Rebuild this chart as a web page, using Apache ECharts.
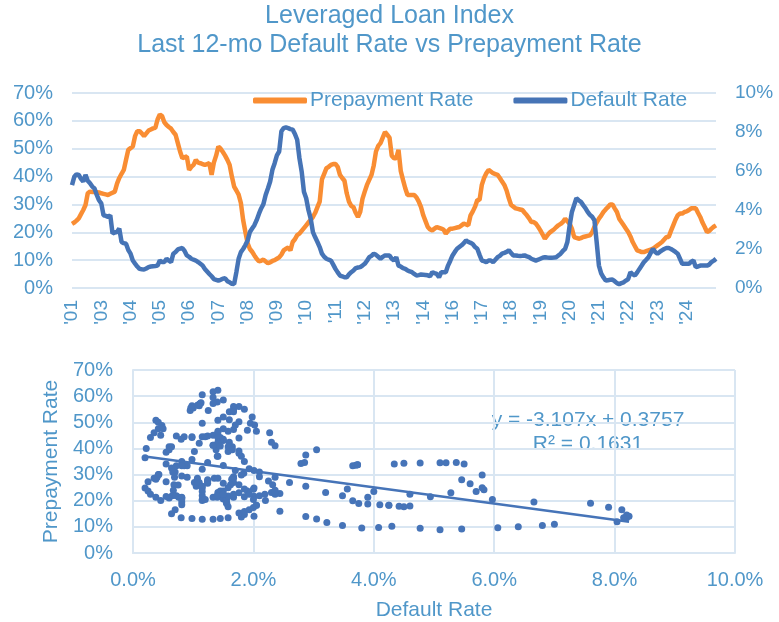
<!DOCTYPE html>
<html>
<head>
<meta charset="utf-8">
<title>Leveraged Loan Index</title>
<script src="https://cdn.jsdelivr.net/npm/echarts@6/dist/echarts.min.js"></script>
<style>
  html, body { margin: 0; padding: 0; background: #fff; }
  #chart { width: 779px; height: 622px; }
</style>
</head>
<body>
<div id="chart"></div>
<script>
// monthly series, Dec 2001 .. Oct 2025 (values in %)
var prepayRate = [
  23.0,
  23.5, 24.2, 25.0, 26.5, 28.0, 29.8, 34.0, 34.6, 34.5, 34.5, 34.4, 34.3,
  34.0, 33.8, 33.6, 33.4, 33.8, 34.2, 34.6, 37.5, 39.5, 41.0, 42.4, 46.0,
  49.6, 50.2, 50.8, 54.5, 56.3, 56.3, 55.5, 54.5, 55.5, 56.5, 56.9, 57.3,
  57.5, 60.5, 62.3, 61.7, 59.5, 58.5, 57.8, 57.2, 56.0, 55.0, 52.0, 49.0,
  46.6, 47.0, 47.2, 42.4, 43.5, 44.2, 46.0, 45.0, 44.8, 44.5, 44.2, 44.5,
  44.8, 40.6, 45.0, 47.5, 50.8, 50.0, 48.8, 47.5, 46.0, 44.2, 40.0, 36.4,
  35.0, 33.5, 30.5, 24.4, 20.1, 16.0, 14.0, 13.0, 11.7, 10.5, 9.6, 9.8,
  10.2, 9.5, 8.9, 9.2, 9.7, 10.0, 10.5, 11.0, 12.0, 13.5, 14.1, 14.5,
  13.5, 16.5, 17.5, 19.0, 19.5, 20.5, 21.5, 22.5, 23.5, 24.5, 25.5, 27.0,
  29.0, 31.0, 39.0, 41.0, 43.0, 43.5, 44.2, 44.5, 44.5, 43.5, 40.6, 39.5,
  38.5, 34.0, 31.0, 29.5, 29.0, 27.0, 25.5, 27.3, 32.0, 34.6, 37.0, 38.8,
  40.6, 44.0, 49.0, 51.0, 52.0, 54.0, 56.0, 55.0, 54.0, 47.5, 46.6, 46.6,
  49.6, 42.0, 38.8, 35.8, 33.4, 33.4, 33.4, 33.4, 32.5, 31.0, 29.0, 26.1,
  24.0, 21.9, 21.0, 20.7, 21.3, 21.9, 21.6, 21.3, 21.0, 19.5, 20.5, 21.3,
  21.3, 21.5, 21.7, 21.9, 22.5, 23.1, 22.8, 22.5, 26.1, 27.5, 29.2, 31.6,
  31.6, 37.0, 39.5, 41.2, 42.4, 41.8, 41.2, 40.9, 40.6, 39.5, 38.2, 37.0,
  35.0, 32.2, 29.8, 29.2, 28.6, 28.4, 28.2, 28.0, 27.0, 26.1, 25.0, 23.7,
  23.7, 23.1, 22.0, 20.7, 19.2, 17.7, 18.8, 19.8, 20.4, 21.0, 21.8, 22.5,
  23.0, 23.7, 24.9, 24.0, 23.1, 21.3, 18.3, 18.0, 17.7, 17.9, 18.3, 18.5,
  18.7, 18.9, 20.0, 21.9, 23.5, 24.9, 26.0, 27.3, 28.2, 29.0, 30.0, 30.0,
  28.6, 27.3, 24.9, 23.7, 22.5, 21.3, 20.1, 18.5, 16.5, 15.0, 13.5, 13.2,
  12.9, 12.9, 13.2, 13.5, 13.8, 14.1, 14.7, 15.3, 15.9, 16.5, 17.4, 18.3,
  18.3, 20.5, 22.5, 24.5, 26.1, 26.7, 26.7, 27.3, 27.5, 28.0, 28.6, 28.6,
  28.6, 27.0, 25.5, 23.5, 21.9, 20.1, 20.5, 21.3, 22.0, 22.5
];
var defaultRate = [
  5.28,
  5.70, 5.83, 5.80, 5.60, 5.46, 5.80, 5.50, 5.37, 5.20, 5.10, 4.77, 4.50,
  4.34, 3.73, 3.70, 3.65, 3.73, 2.79, 2.85, 2.87, 3.05, 2.36, 2.30, 2.27,
  1.95, 1.76, 1.41, 1.25, 1.10, 0.98, 0.96, 0.95, 1.00, 1.07, 1.10, 1.12,
  1.13, 1.15, 1.41, 1.33, 1.33, 1.50, 1.40, 1.33, 1.76, 1.85, 1.98, 2.02,
  2.05, 1.90, 1.67, 1.60, 1.50, 1.45, 1.41, 1.33, 1.24, 1.15, 0.98, 0.85,
  0.72, 0.60, 0.46, 0.42, 0.38, 0.42, 0.48, 0.50, 0.35, 0.29, 0.22, 0.20,
  0.81, 1.50, 1.84, 2.00, 2.20, 2.44, 2.87, 3.05, 3.22, 3.48, 3.80, 4.08,
  4.30, 4.77, 5.10, 5.46, 6.06, 6.40, 6.80, 7.00, 8.04, 8.20, 8.24, 8.20,
  8.15, 8.12, 7.90, 7.60, 6.66, 5.97, 4.94, 4.60, 4.00, 3.56, 2.87, 2.60,
  2.36, 2.10, 1.76, 1.60, 1.50, 1.45, 1.41, 1.20, 0.98, 0.80, 0.64, 0.60,
  0.55, 0.55, 0.70, 0.81, 0.90, 1.02, 1.05, 1.07, 1.15, 1.24, 1.40, 1.58,
  1.65, 1.76, 1.70, 1.60, 1.50, 1.60, 1.67, 1.67, 1.67, 1.50, 1.41, 1.58,
  1.15, 1.10, 1.02, 0.98, 0.90, 0.85, 0.81, 0.72, 0.64, 0.66, 0.69, 0.68,
  0.67, 0.65, 0.60, 0.81, 0.76, 0.72, 0.55, 0.81, 0.81, 0.81, 1.15, 1.40,
  1.67, 1.85, 2.01, 2.10, 2.19, 2.30, 2.44, 2.36, 2.32, 2.25, 2.10, 2.01,
  1.70, 1.41, 1.38, 1.33, 1.41, 1.41, 1.33, 1.45, 1.58, 1.65, 1.76, 1.80,
  1.85, 1.93, 1.80, 1.67, 1.67, 1.65, 1.64, 1.65, 1.67, 1.62, 1.58, 1.50,
  1.45, 1.41, 1.45, 1.50, 1.55, 1.58, 1.56, 1.55, 1.55, 1.56, 1.58, 1.67,
  1.76, 1.90, 2.01, 2.36, 3.20, 3.90, 4.25, 4.60, 4.50, 4.42, 4.25, 4.10,
  3.90, 3.75, 3.65, 3.48, 2.36, 1.15, 0.75, 0.55, 0.38, 0.40, 0.42, 0.43,
  0.35, 0.25, 0.20, 0.25, 0.29, 0.38, 0.46, 0.81, 0.70, 0.64, 0.80, 0.98,
  1.15, 1.33, 1.45, 1.58, 1.80, 2.01, 1.85, 1.76, 1.85, 1.93, 2.00, 2.05,
  2.05, 2.00, 1.93, 1.85, 1.76, 1.50, 1.24, 1.24, 1.24, 1.24, 1.35, 1.41,
  1.07, 1.10, 1.15, 1.15, 1.15, 1.15, 1.20, 1.33, 1.40, 1.50
];
// excel trendline
var trendSlope = -3.107;
var trendIntercept = 37.57;
var trendLabel = 'y = -3.107x + 0.3757\nR\u00B2 = 0.1631';

var months = [];
for (var k = 0; k < prepayRate.length; k++) {
  var yr = 2001 + Math.floor((11 + k) / 12);
  var mo = (11 + k) % 12 + 1;
  months.push(yr + '-' + (mo < 10 ? '0' + mo : mo));
}
var scatterData = defaultRate.map(function (d, i) { return [d, prepayRate[i]]; });
var xMin = Math.min.apply(null, defaultRate);
var xMax = Math.max.apply(null, defaultRate);
var trendData = [[xMin, trendSlope * xMin + trendIntercept], [xMax, trendSlope * xMax + trendIntercept]];

var textColor = '#5097c9';
var gridColor = '#d9e6f2';
var font = 'Liberation Sans, Arial, sans-serif';

var chart = echarts.init(document.getElementById('chart'));
chart.setOption({
  animation: false,
  textStyle: { fontFamily: font },
  title: {
    text: 'Leveraged Loan Index\nLast 12-mo Default Rate vs Prepayment Rate',
    left: 'center',
    top: 2,
    padding: 0,
    textStyle: { color: textColor, fontSize: 25, fontWeight: 'normal', lineHeight: 29, fontFamily: font }
  },
  legend: {
    top: 85,
    left: 248,
    itemWidth: 54,
    itemHeight: 6,
    itemGap: 40,
    icon: 'roundRect',
    textStyle: { color: textColor, fontSize: 21, fontFamily: font, padding: [0, 0, 0, -2] },
    data: ['Prepayment Rate', 'Default Rate']
  },
  grid: [
    { left: 72, right: 63, top: 93, height: 195 },
    { left: 133, right: 44, top: 370, height: 184 }
  ],
  xAxis: [
    {
      type: 'category',
      gridIndex: 0,
      data: months,
      boundaryGap: false,
      axisLine: { show: false },
      axisTick: { show: false },
      axisLabel: {
        interval: 12,
        rotate: 90,
        margin: 12,
        showMaxLabel: false,
        color: textColor,
        fontSize: 19,
        formatter: function (v) { return "'" + v.substr(2, 2); }
      }
    },
    {
      type: 'value',
      gridIndex: 1,
      min: 0,
      max: 10,
      interval: 2,
      name: 'Default Rate',
      nameLocation: 'middle',
      nameGap: 47,
      nameTextStyle: { color: textColor, fontSize: 21 },
      axisLine: { show: true, lineStyle: { color: gridColor, width: 2 } },
      axisTick: { show: false },
      splitLine: { show: true, lineStyle: { color: gridColor, width: 2 } },
      axisLabel: {
        color: textColor,
        fontSize: 20,
        margin: 17,
        formatter: function (v) { return v.toFixed(1) + '%'; }
      }
    }
  ],
  yAxis: [
    {
      type: 'value',
      gridIndex: 0,
      min: 0,
      max: 70,
      interval: 10,
      axisLine: { show: false },
      axisTick: { show: false },
      splitLine: { lineStyle: { color: gridColor, width: 2 } },
      axisLabel: { color: textColor, fontSize: 20, margin: 19, formatter: '{value}%' }
    },
    {
      type: 'value',
      gridIndex: 0,
      position: 'right',
      min: 0,
      max: 10,
      interval: 2,
      axisLine: { show: false },
      axisTick: { show: false },
      splitLine: { show: false },
      axisLabel: { color: textColor, fontSize: 19, margin: 19, formatter: '{value}%' }
    },
    {
      type: 'value',
      gridIndex: 1,
      min: 0,
      max: 70,
      interval: 10,
      name: 'Prepayment Rate',
      nameLocation: 'middle',
      nameGap: 68,
      nameTextStyle: { color: textColor, fontSize: 21 },
      axisLine: { show: true, lineStyle: { color: gridColor, width: 2 } },
      axisTick: { show: false },
      splitLine: { lineStyle: { color: gridColor, width: 2 } },
      axisLabel: { color: textColor, fontSize: 20, margin: 20, formatter: '{value}%' }
    }
  ],
  series: [
    {
      name: 'Prepayment Rate',
      type: 'line',
      xAxisIndex: 0,
      yAxisIndex: 0,
      data: prepayRate,
      symbol: 'none',
      color: '#f98d33',
      lineStyle: { width: 4.5, color: '#f98d33' }
    },
    {
      name: 'Default Rate',
      type: 'line',
      xAxisIndex: 0,
      yAxisIndex: 1,
      data: defaultRate,
      symbol: 'none',
      color: '#4674b6',
      lineStyle: { width: 4.5, color: '#4674b6' }
    },
    {
      name: 'scatter',
      type: 'scatter',
      xAxisIndex: 1,
      yAxisIndex: 2,
      data: scatterData,
      symbolSize: 7,
      itemStyle: { color: '#4674b8', opacity: 1 }
    },
    {
      name: 'trend',
      type: 'line',
      xAxisIndex: 1,
      yAxisIndex: 2,
      data: trendData,
      symbol: 'none',
      lineStyle: { width: 2.5, color: '#4674b8' }
    }
  ],
  graphic: [
    {
      type: 'text',
      x: 588,
      y: 408,
      style: {
        text: trendLabel,
        fill: textColor,
        font: '21px ' + font,
        align: 'center',
        verticalAlign: 'top',
        lineHeight: 24
      }
    }
  ]
});
</script>
</body>
</html>
